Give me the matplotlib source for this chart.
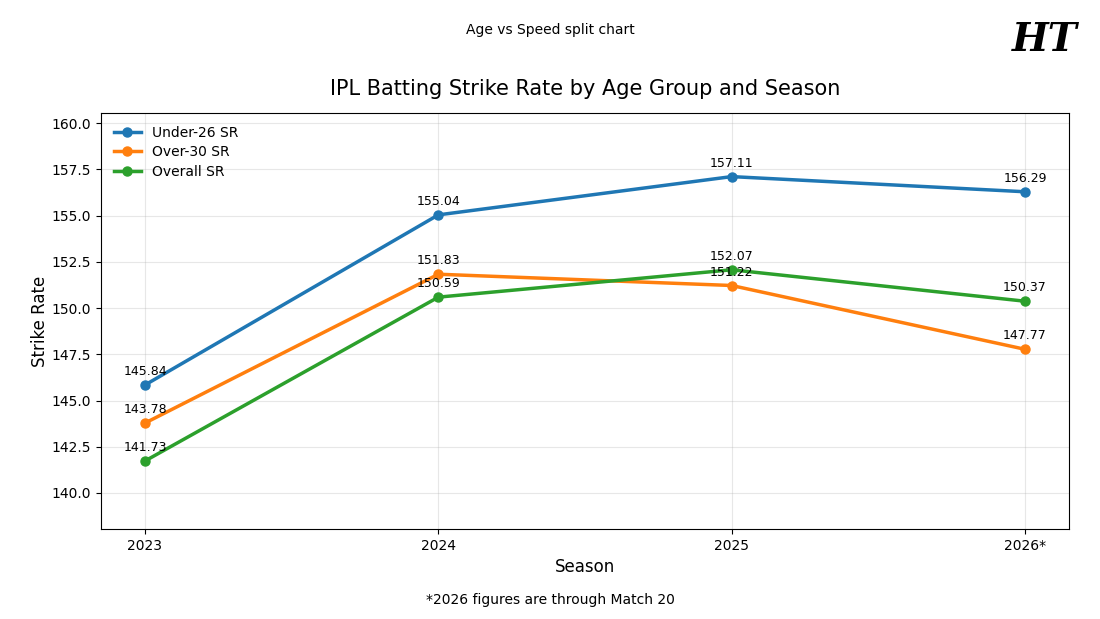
import matplotlib
matplotlib.use("Agg")
import matplotlib.pyplot as plt

seasons = ["2023", "2024", "2025", "2026*"]
under26 = [145.84, 155.04, 157.11, 156.29]
over30 = [143.78, 151.83, 151.22, 147.77]
overall = [141.73, 150.59, 152.07, 150.37]

series = [
    ("Under-26 SR", under26, "#1f77b4"),
    ("Over-30 SR", over30, "#ff7f0e"),
    ("Overall SR", overall, "#2ca02c"),
]

fig = plt.figure(figsize=(11, 6.19), dpi=100)
ax = fig.add_axes([101 / 1100, 1 - 529 / 619, 968 / 1100, 416 / 619])

x = list(range(len(seasons)))
for name, vals, col in series:
    ax.plot(x, vals, marker="o", color=col, linewidth=2.5, markersize=6.5, label=name)
    for xi, v in zip(x, vals):
        ax.annotate(f"{v:.2f}", (xi, v), textcoords="offset points", xytext=(0, 5),
                    ha="center", va="bottom", fontsize=9)

ax.set_xticks(x)
ax.set_xticklabels(seasons)
ax.set_xlim(-0.15, 3.15)
ax.set_ylim(138.05, 160.55)
ax.set_yticks([140.0, 142.5, 145.0, 147.5, 150.0, 152.5, 155.0, 157.5, 160.0])
ax.set_yticklabels([f"{t:.1f}" for t in ax.get_yticks()])
ax.tick_params(labelsize=10)
ax.grid(True, alpha=0.3)
ax.set_xlabel("Season", fontsize=12)
ax.set_ylabel("Strike Rate", fontsize=12, labelpad=2)
ax.set_title("IPL Batting Strike Rate by Age Group and Season", fontsize=15, pad=13)
ax.legend(loc="upper left", frameon=False, fontsize=10, labelspacing=0.4, handlelength=2.0)

fig.text(0.5, 1 - 30 / 619, "Age vs Speed split chart", ha="center", va="center", fontsize=10)
fig.text(0.5, 1 - 600 / 619, "*2026 figures are through Match 20", ha="center", va="center", fontsize=10)
fig.text(1045 / 1100, 1 - 40 / 619, "HT", ha="center", va="center", fontsize=28,
         family="DejaVu Serif", fontweight="bold", fontstyle="italic")

fig.savefig("out.png", dpi=100)
